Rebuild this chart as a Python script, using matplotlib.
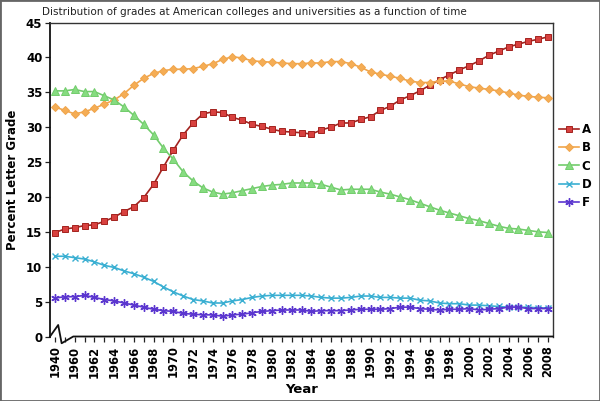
import matplotlib
matplotlib.use("Agg")
import matplotlib.pyplot as plt
from matplotlib.lines import Line2D
from matplotlib.patches import Rectangle

years = ["1940", "1950",
         "1960", "1961", "1962", "1963", "1964", "1965", "1966", "1967", "1968", "1969",
         "1970", "1971", "1972", "1973", "1974", "1975", "1976", "1977", "1978", "1979",
         "1980", "1981", "1982", "1983", "1984", "1985", "1986", "1987", "1988", "1989",
         "1990", "1991", "1992", "1993", "1994", "1995", "1996", "1997", "1998", "1999",
         "2000", "2001", "2002", "2003", "2004", "2005", "2006", "2007", "2008"]

grade_A = [14.9, 15.4, 15.6, 15.9, 16.0, 16.5, 17.1, 17.9, 18.6, 19.9, 21.8, 24.3,
           26.7, 28.9, 30.6, 31.9, 32.2, 32.1, 31.4, 31.0, 30.4, 30.1, 29.7, 29.4,
           29.3, 29.2, 29.0, 29.6, 30.0, 30.6, 30.6, 31.1, 31.5, 32.4, 33.0, 33.9,
           34.5, 35.2, 36.0, 36.8, 37.5, 38.2, 38.8, 39.5, 40.3, 40.9, 41.5, 41.9,
           42.3, 42.6, 42.95]
grade_B = [32.9, 32.4, 31.9, 32.2, 32.7, 33.3, 33.9, 34.8, 36.0, 37.0, 37.7, 38.1,
           38.3, 38.3, 38.4, 38.7, 39.1, 39.7, 40.1, 39.9, 39.5, 39.4, 39.3, 39.2,
           39.1, 39.1, 39.2, 39.2, 39.4, 39.4, 39.1, 38.6, 37.9, 37.6, 37.3, 37.0,
           36.6, 36.4, 36.4, 36.6, 36.6, 36.2, 35.8, 35.6, 35.4, 35.2, 34.9, 34.6,
           34.4, 34.3, 34.2]
grade_C = [35.2, 35.2, 35.4, 35.1, 35.1, 34.5, 33.9, 32.9, 31.7, 30.4, 28.9, 27.0,
           25.4, 23.6, 22.3, 21.3, 20.7, 20.4, 20.6, 20.9, 21.2, 21.5, 21.7, 21.8,
           22.0, 22.0, 22.0, 21.8, 21.4, 21.0, 21.1, 21.1, 21.1, 20.7, 20.4, 20.0,
           19.6, 19.1, 18.6, 18.1, 17.7, 17.3, 16.9, 16.6, 16.2, 15.8, 15.5, 15.4,
           15.2, 15.0, 14.9]
grade_D = [11.5, 11.5, 11.3, 11.1, 10.7, 10.2, 9.9, 9.4, 9.0, 8.5, 7.9, 7.1,
           6.4, 5.8, 5.3, 5.1, 4.8, 4.8, 5.1, 5.3, 5.6, 5.8, 5.9, 5.9,
           5.9, 5.9, 5.8, 5.6, 5.5, 5.5, 5.6, 5.8, 5.8, 5.6, 5.6, 5.5,
           5.5, 5.2, 5.1, 4.8, 4.7, 4.7, 4.5, 4.5, 4.4, 4.3, 4.2, 4.2,
           4.2, 4.1, 4.1]
grade_F = [5.5, 5.7, 5.7, 5.9, 5.6, 5.3, 5.1, 4.8, 4.5, 4.2, 3.9, 3.7,
           3.6, 3.3, 3.2, 3.1, 3.1, 2.9, 3.1, 3.2, 3.4, 3.6, 3.7, 3.8,
           3.8, 3.8, 3.6, 3.7, 3.7, 3.7, 3.8, 3.9, 3.9, 3.9, 4.0, 4.2,
           4.2, 4.0, 3.9, 3.8, 3.9, 3.9, 4.0, 3.8, 3.9, 4.0, 4.2, 4.2,
           4.0, 4.0, 4.0]

series = [
    ("A", grade_A, "#a3231f", "#d8413f", "s", 4.6),
    ("B", grade_B, "#f0a54c", "#f5ad55", "D", 4.0),
    ("C", grade_C, "#72cc6c", "#86dc80", "^", 5.4),
    ("D", grade_D, "#3aafd2", "#3aafd2", "x", 5.0),
    ("F", grade_F, "#5b36cf", "#6a44dd", (6, 2, 0), 6.0),
]

fig = plt.figure(figsize=(6.0, 4.01), dpi=100)
ax = fig.add_axes([50 / 600, 1 - 336.5 / 401, 503 / 600, 314 / 401])

x = list(range(len(years)))
handles = []
for name, vals, lc, fc, mk, ms in series:
    h, = ax.plot(x, vals, color=lc, lw=1.2, marker=mk, markersize=ms,
                 markerfacecolor=fc, markeredgecolor=lc,
                 markeredgewidth=1.0 if mk in ("x", (6, 2, 0)) else 0.7,
                 label=name, clip_on=False, zorder=3)
    handles.append(h)

ax.set_xlim(-0.5, len(years) - 0.5)
ax.set_ylim(0, 45)
ax.set_yticks(range(0, 46, 5))
ax.set_xticks(x)
ax.set_xticklabels([y if i % 2 == 0 else "" for i, y in enumerate(years)],
                   rotation=90, fontsize=8.3, fontweight="bold")
for lab in ax.get_yticklabels():
    lab.set_fontweight("bold")
    lab.set_fontsize(8.5)
ax.tick_params(axis="both", direction="out", length=3.5, width=0.9, color="#222222", pad=2)
ax.tick_params(axis="x", pad=3)

ax.spines["bottom"].set_visible(False)
ax.spines["left"].set_linewidth(1.3)
ax.spines["left"].set_color("#111111")
ax.spines["top"].set_color("#333333")
ax.spines["right"].set_color("#333333")
ax.spines["top"].set_linewidth(1.0)
ax.spines["right"].set_linewidth(1.0)

# bottom axis with break symbol
brk_x = [-0.5, 0.33, 0.68, 1.86, len(years) - 0.5]
brk_y = [0, 1.65, -0.97, 0, 0]
ax.add_line(Line2D(brk_x, brk_y, color="#111111", lw=1.3, clip_on=False, zorder=4))

ax.set_ylabel("Percent Letter Grade", fontsize=8.5, fontweight="bold", labelpad=5)
ax.set_xlabel("Year", fontsize=9.5, fontweight="bold", labelpad=4)

fig.text(42 / 600, 1 - 12 / 401, "Distribution of grades at American colleges and universities as a function of time",
         fontsize=7.5, ha="left", va="center", color="#222222")

leg = fig.legend(handles=handles, loc="center left", bbox_to_anchor=(558 / 600, 1 - 166 / 401),
                 frameon=False, fontsize=8.5, handlelength=1.7, handletextpad=0.2,
                 labelspacing=0.45, borderpad=0.1, borderaxespad=0.0)
for t in leg.get_texts():
    t.set_fontweight("bold")

fig.patches.append(Rectangle((0, 0), 1, 1, transform=fig.transFigure, fill=False,
                             edgecolor="#666666", lw=2.0))

fig.savefig("out.png", dpi=100)
